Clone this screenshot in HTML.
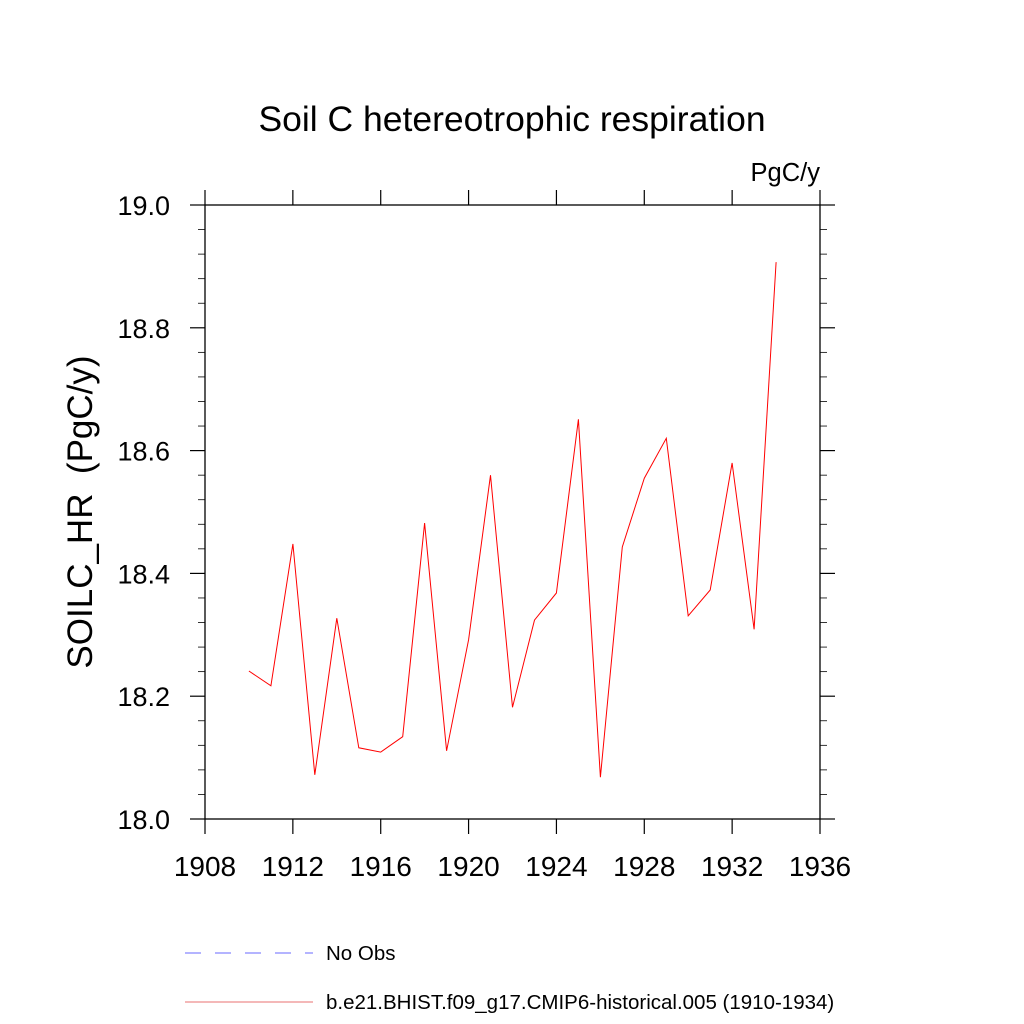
<!DOCTYPE html>
<html><head><meta charset="utf-8"><style>
body{margin:0;background:#fff;}
svg{display:block;font-family:"Liberation Sans",sans-serif;}
</style></head><body>
<svg id="chart" width="1024" height="1024" viewBox="0 0 1024 1024">
<rect width="1024" height="1024" fill="#fff"/>
<text x="512" y="131" font-size="35.5" text-anchor="middle">Soil C hetereotrophic respiration</text>
<text x="820" y="181" font-size="25.5" text-anchor="end">PgC/y</text>
<text transform="translate(92,512) rotate(-90)" font-size="35" text-anchor="middle">SOILC_HR &#160;(PgC/y)</text>
<g id="axes"></g>
<g id="series"></g>
<g>
<line x1="185" y1="953" x2="313" y2="953" stroke="#6a6aff" stroke-width="1" stroke-dasharray="16,14"/>
<text x="326" y="960" font-size="20.5">No Obs</text>
<line x1="185" y1="1002" x2="313" y2="1002" stroke="#e87070" stroke-width="1"/>
<text x="326" y="1009" font-size="20.5">b.e21.BHIST.f09_g17.CMIP6-historical.005 (1910-1934)</text>
</g>
</svg>
<script>
const years=[1910,1911,1912,1913,1914,1915,1916,1917,1918,1919,1920,1921,1922,1923,1924,1925,1926,1927,1928,1929,1930,1931,1932,1933,1934];
const values=[18.241,18.217,18.448,18.072,18.327,18.116,18.109,18.134,18.482,18.111,18.292,18.560,18.182,18.324,18.368,18.651,18.068,18.443,18.555,18.620,18.331,18.373,18.580,18.309,18.907];
const xTicks=[1908,1912,1916,1920,1924,1928,1932,1936];
const yTicks=[18.0,18.2,18.4,18.6,18.8,19.0];
const yTickLabels=["18.0","18.2","18.4","18.6","18.8","19.0"];
const X0=205,X1=820,Y0=819,Y1=205;
const xMin=1908,xMax=1936,yMin=18,yMax=19;
function xs(v){return X0+(v-xMin)/(xMax-xMin)*(X1-X0);}
function ys(v){return Y0-(v-yMin)/(yMax-yMin)*(Y0-Y1);}
const NS="http://www.w3.org/2000/svg";
const axes=document.getElementById('axes');
function mk(tag,attrs,parent){const e=document.createElementNS(NS,tag);for(const k in attrs)e.setAttribute(k,attrs[k]);parent.appendChild(e);return e;}
const frame=mk('rect',{x:X0,y:Y1,width:X1-X0,height:Y0-Y1,fill:'none',stroke:'#000','stroke-width':1.3},axes);


xTicks.forEach((t,i)=>{
  const x=xs(t);
  const a=mk('line',{x1:x,y1:Y0,x2:x,y2:Y0+15,stroke:'#000','stroke-width':1.2},axes);
  
  
  const b=mk('line',{x1:x,y1:Y1,x2:x,y2:Y1-15,stroke:'#000','stroke-width':1.2},axes);
  
  
  const tx=mk('text',{x:x,y:876,'font-size':28,'text-anchor':'middle'},axes);
  tx.textContent=t;
  
  
});
for(let k=0;k<=25;k++){
  const v=yMin+k*0.04;const y=ys(v);const major=(k%5===0);const L=major?15:7;
  const a=mk('line',{x1:X0,y1:y,x2:X0-L,y2:y,stroke:'#000','stroke-width':major?1.2:0.8},axes);
  
  
  const b=mk('line',{x1:X1,y1:y,x2:X1+L,y2:y,stroke:'#000','stroke-width':major?1.2:0.8},axes);
  
  
}
yTicks.forEach((t,i)=>{
  const tx=mk('text',{x:170,y:ys(t)+10,'font-size':27,'text-anchor':'end'},axes);
  tx.textContent=yTickLabels[i];
  
  
});
const pts=years.map((yr,i)=>xs(yr).toFixed(1)+','+ys(values[i]).toFixed(1)).join(' ');
const line=mk('polyline',{points:pts,fill:'none',stroke:'#ff0000','stroke-width':1},document.getElementById('series'));


</script>
</body></html>
